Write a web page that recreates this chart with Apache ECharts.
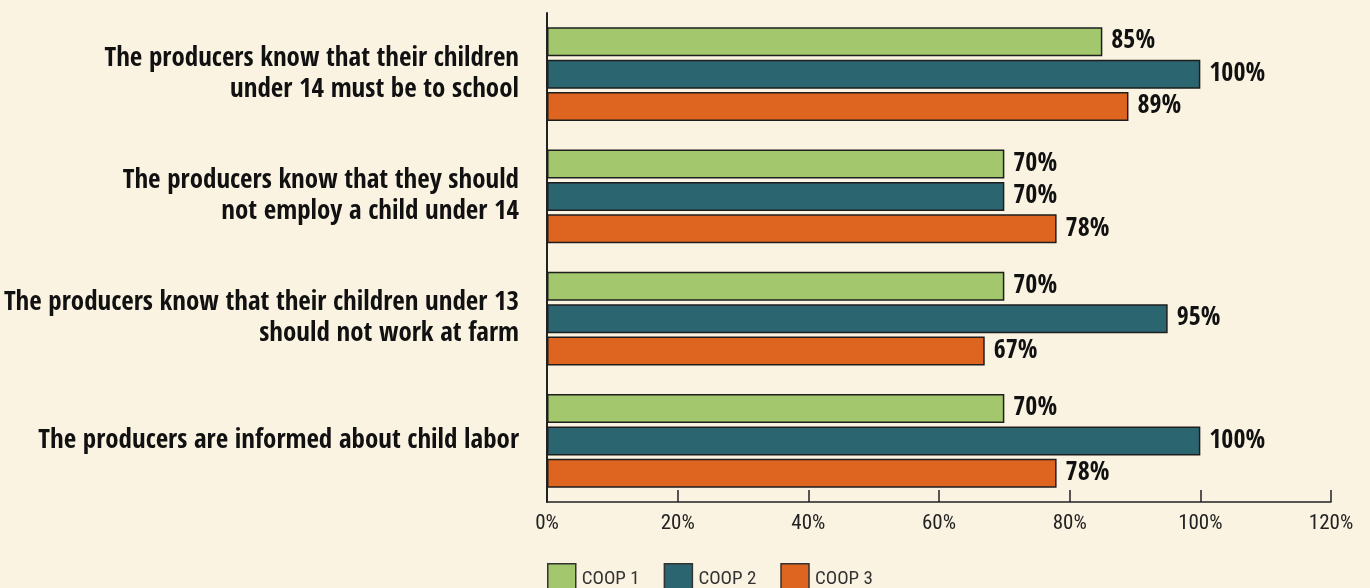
<!DOCTYPE html>
<html>
<head>
<meta charset="utf-8">
<script src="https://cdn.jsdelivr.net/npm/echarts@6/dist/echarts.min.js"></script>
<style>
html,body{margin:0;padding:0;background:#fbf3e2;}
#c{width:1370px;height:588px;}
</style>
</head>
<body>
<div id="c"></div>
<script>
const categories = [
  "The producers know that their children\nunder 14 must be to school",
  "The producers know that they should\nnot employ a child under 14",
  "The producers know that their children under 13\nshould not work at farm",
  "The producers are informed about child labor"
];
const seriesNames = ["COOP 1", "COOP 2", "COOP 3"];
const coop1 = [85, 70, 70, 70];
const coop2 = [100, 70, 95, 100];
const coop3 = [89, 78, 67, 78];
const colors = ["#a3c76c", "#2b6570", "#dd651f"];
const BOLD = "'Open Sans Condensed', 'Roboto Condensed', sans-serif";
const REG = "'Roboto Condensed', sans-serif";

const chart = echarts.init(document.getElementById('c'));
const mk = (name, data, color) => ({
  name, type: 'bar', data,
  barWidth: 29, barGap: '12%',
  itemStyle: {color, borderColor: '#1e1e1e', borderWidth: 1.5},
  label: {show: true, position: 'right', distance: 9, formatter: '{c}%',
    fontFamily: BOLD, fontWeight: 'bold', fontSize: 26, color: '#111'},
  emphasis: {disabled: true}
});
chart.setOption({
  backgroundColor: '#fbf3e2',
  animation: false,
  grid: {left: 547, right: 39, top: 13, bottom: 86, containLabel: false, outerBoundsMode: 'none'},
  legend: {
    left: 547, top: 563, itemWidth: 28, itemHeight: 30, itemGap: 24, padding: 0,
    icon: 'rect',
    textStyle: {fontFamily: REG, fontSize: 19, color: '#333', padding: [0, 0, 0, 1]},
    itemStyle: {borderColor: '#333', borderWidth: 1.5},
    data: seriesNames
  },
  xAxis: {
    type: 'value', min: 0, max: 120, interval: 20,
    axisLine: {show: true, lineStyle: {color: '#222', width: 1.5}},
    axisTick: {show: true, inside: true, length: 12, lineStyle: {color: '#222', width: 1.5}},
    splitLine: {show: false},
    axisLabel: {formatter: '{value}%', margin: 11, fontFamily: REG, fontSize: 21, color: '#222'}
  },
  yAxis: {
    type: 'category', data: categories, inverse: true,
    axisLine: {show: true, lineStyle: {color: '#222', width: 2}},
    axisTick: {show: false},
    axisLabel: {margin: 28, fontFamily: BOLD, fontWeight: 'bold', fontSize: 27, lineHeight: 31, color: '#111', align: 'right'}
  },
  series: [mk(seriesNames[0], coop1, colors[0]), mk(seriesNames[1], coop2, colors[1]), mk(seriesNames[2], coop3, colors[2])]
});
</script>
</body>
</html>
